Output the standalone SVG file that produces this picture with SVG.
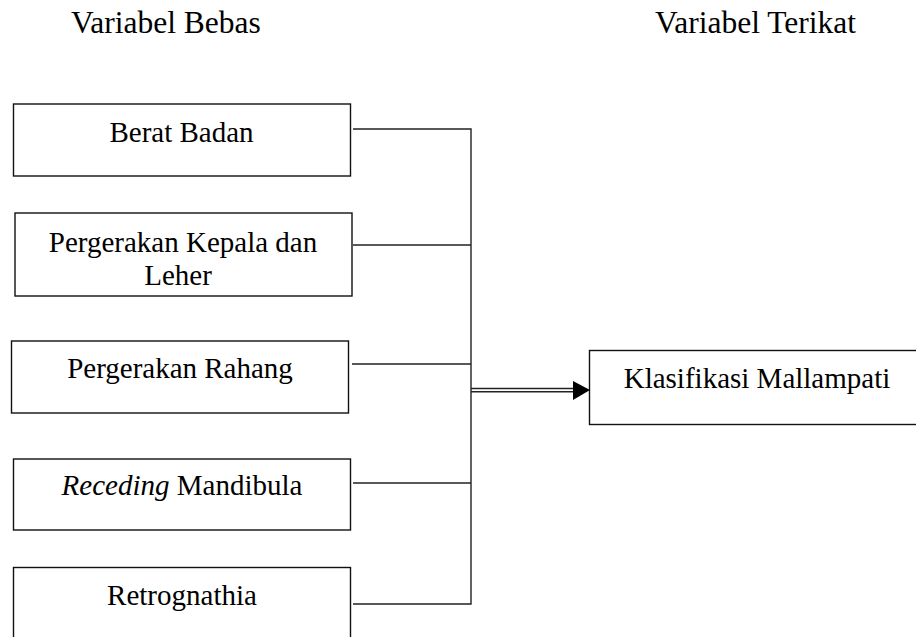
<svg xmlns="http://www.w3.org/2000/svg" width="916" height="637" viewBox="0 0 916 637">
<defs>
<style>
.box{fill:#fff;stroke:#111;stroke-width:1.4}
.t{font-family:"Liberation Serif","Times New Roman",serif;font-size:29px;fill:#000;text-anchor:middle}
.h{font-family:"Liberation Serif","Times New Roman",serif;font-size:31.5px;fill:#000}
.ln{fill:none;stroke:#222;stroke-width:1.4}
</style>
</defs>
<rect width="916" height="637" fill="#fff"/>
<text class="h" x="71" y="33">Variabel Bebas</text>
<text class="h" x="655" y="33">Variabel Terikat</text>
<g id="n1"><rect class="box" x="13.5" y="104" width="337" height="72"/><text class="t" x="181.5" y="142">Berat Badan</text></g>
<g id="n2"><rect class="box" x="15" y="213" width="337" height="83"/><text class="t" x="183" y="252">Pergerakan Kepala dan</text><text class="t" x="178" y="285">Leher</text></g>
<g id="n3"><rect class="box" x="11.5" y="341" width="337" height="72"/><text class="t" x="180" y="378">Pergerakan Rahang</text></g>
<g id="n4"><rect class="box" x="13.5" y="459" width="337" height="71"/><text class="t" x="182" y="495"><tspan font-style="italic">Receding</tspan> Mandibula</text></g>
<g id="n5"><rect class="box" x="13.5" y="567.5" width="337" height="90"/><text class="t" x="182" y="605">Retrognathia</text></g>
<g id="n6"><rect class="box" x="589.5" y="350.5" width="340" height="74"/><text class="t" x="757" y="388">Klasifikasi Mallampati</text></g>
<g id="connectors">
<path class="ln" d="M353 129H471V604H353M353 245H471M352 364H471M353 483H471"/>
<path class="ln" d="M471 388.5H576M471 391.8H576" stroke-width="1.2"/>
<polygon points="573,381 590,390 573,400" fill="#000"/>
</g>
</svg>
